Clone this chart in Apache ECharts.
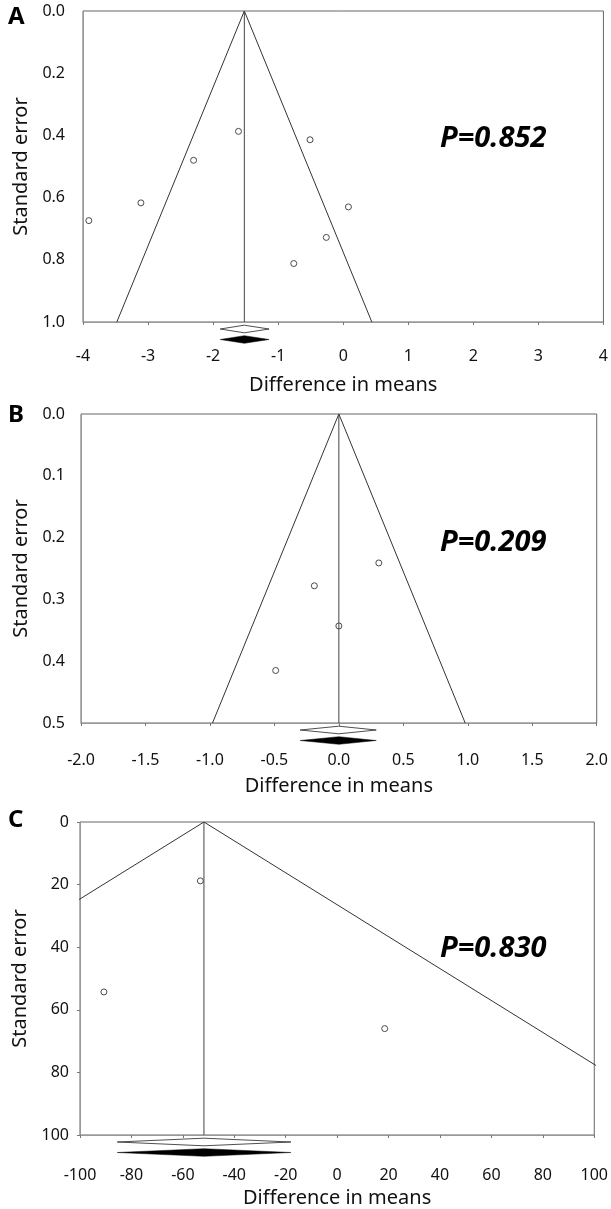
<!DOCTYPE html>
<html>
<head>
<meta charset="utf-8">
<script src="https://cdn.jsdelivr.net/npm/echarts@6/dist/echarts.min.js"></script>
<style>
  html, body { margin: 0; padding: 0; background: #fff; }
  #chart { width: 611px; height: 1209px; }
</style>
</head>
<body>
<div id="chart"></div>
<script>
// panel letters and Egger p-values
const panelNames = ['A', 'B', 'C']
const pValues = ['P=0.852', 'P=0.209', 'P=0.830']

// axis ranges (difference in means / standard error)
const xMin = [-4, -2, -100]
const xMax = [4, 2, 100]
const xStep = [1, 0.5, 20]
const xDecimals = [0, 1, 0]
const seMax = [1, 0.5, 100]
const seStep = [0.2, 0.1, 20]
const seDecimals = [1, 1, 0]

// study points
const diffA = [-3.91, -3.11, -2.30, -1.61, -0.51, 0.08, -0.26, -0.76]
const seA = [0.674, 0.617, 0.480, 0.387, 0.414, 0.630, 0.728, 0.812]
const diffB = [0.31, -0.19, 0.0, -0.49]
const seB = [0.241, 0.278, 0.343, 0.415]
const diffC = [-53.2, -90.7, 18.5]
const seC = [18.8, 54.3, 66.0]

// pooled estimate and its CI (open = observed, filled = imputed)
const pooledMean = [-1.52, 0.0, -51.8]
const openCI = [[-1.89, -1.14], [-0.30, 0.29], [-85.5, -18.0]]
const filledCI = [[-1.89, -1.14], [-0.30, 0.29], [-85.5, -18.0]]

const diffs = [diffA, diffB, diffC]
const ses = [seA, seB, seC]

const grids = [
  { left: 83, top: 11, width: 526, height: 311 },
  { left: 81, top: 414, width: 526, height: 309 },
  { left: 80, top: 822, width: 524, height: 313 }
]
const xLabelMargin = [26, 29, 32]
const yLabelMargin = [18, 16, 11]

const FONT = "'Noto Sans', 'Open Sans', sans-serif"
const chart = echarts.init(document.getElementById('chart'))

const xAxis = [], yAxis = [], series = [], graphic = []

grids.forEach((g, i) => {
  g.show = true
  g.borderColor = '#666'
  g.borderWidth = 1
  xAxis.push({
    gridIndex: i, type: 'value', min: xMin[i], max: xMax[i], interval: xStep[i],
    name: 'Difference in means', nameLocation: 'middle', nameGap: 53,
    nameTextStyle: { fontFamily: FONT, fontSize: 20, color: '#111' },
    axisLine: { onZero: false, lineStyle: { color: '#999' } },
    axisTick: { show: true, length: 3, lineStyle: { color: '#777' } },
    axisLabel: {
      margin: xLabelMargin[i], fontFamily: FONT, fontSize: 16, color: '#111',
      formatter: v => v.toFixed(xDecimals[i])
    },
    splitLine: { show: false }
  })
  yAxis.push({
    gridIndex: i, type: 'value', inverse: true, min: 0, max: seMax[i], interval: seStep[i],
    name: 'Standard error', nameLocation: 'middle', nameGap: 50,
    nameTextStyle: { fontFamily: FONT, fontSize: 20, color: '#111' },
    axisLine: { onZero: false, lineStyle: { color: '#999' } },
    axisTick: { show: i === 2, length: 3, lineStyle: { color: '#777' } },
    axisLabel: {
      margin: yLabelMargin[i], fontFamily: FONT, fontSize: 16, color: '#111',
      formatter: v => v.toFixed(seDecimals[i])
    },
    splitLine: { show: false }
  })

  const m = pooledMean[i], s = seMax[i]
  // funnel (95% pseudo-confidence limits), clipped to the grid
  series.push({
    type: 'line', xAxisIndex: i, yAxisIndex: i, symbol: 'none', silent: true,
    lineStyle: { color: '#333', width: 1 },
    data: [[m - 1.96 * s, s], [m, 0], [m + 1.96 * s, s]]
  })
  series.push({
    type: 'line', xAxisIndex: i, yAxisIndex: i, symbol: 'none', silent: true,
    lineStyle: { color: '#444', width: 1 },
    data: [[m, 0], [m, s]]
  })
  series.push({
    type: 'scatter', xAxisIndex: i, yAxisIndex: i, symbol: 'circle', symbolSize: 6,
    itemStyle: { color: '#fff', borderColor: '#222', borderWidth: 1 },
    data: diffs[i].map((d, k) => [d, ses[i][k]])
  })
  // summary diamonds below the axis
  series.push({
    type: 'custom', xAxisIndex: i, yAxisIndex: i, clip: false, silent: true,
    data: [[openCI[i][0], m, openCI[i][1], 0], [filledCI[i][0], m, filledCI[i][1], 1]],
    encode: { x: [0, 1, 2] },
    renderItem: (params, api) => {
      const row = api.value(3)
      const lo = api.coord([api.value(0), s])
      const mid = api.coord([api.value(1), s])
      const hi = api.coord([api.value(2), s])
      const cy = lo[1] + (row === 0 ? 7 : 17.5)
      const h = 3.8
      return {
        type: 'polygon',
        shape: { points: [[lo[0], cy], [mid[0], cy - h], [hi[0], cy], [mid[0], cy + h]] },
        style: row === 0
          ? { fill: '#fff', stroke: '#222', lineWidth: 0.8 }
          : { fill: '#000', stroke: '#000', lineWidth: 0.5 }
      }
    }
  })
})

const letterY = [20, 418, 823]
const pY = [143, 547, 953]
panelNames.forEach((n, i) => {
  graphic.push({
    type: 'text', left: 8, top: letterY[i] - 15,
    style: { text: n, font: 'bold 24px ' + FONT, fill: '#000' }
  })
  graphic.push({
    type: 'text', left: 440, top: pY[i] - 19,
    style: { text: pValues[i], font: 'italic bold 29px ' + FONT, fill: '#000' }
  })
})

chart.setOption({
  animation: false,
  backgroundColor: '#fff',
  grid: grids,
  xAxis, yAxis, series, graphic
})
</script>
</body>
</html>
